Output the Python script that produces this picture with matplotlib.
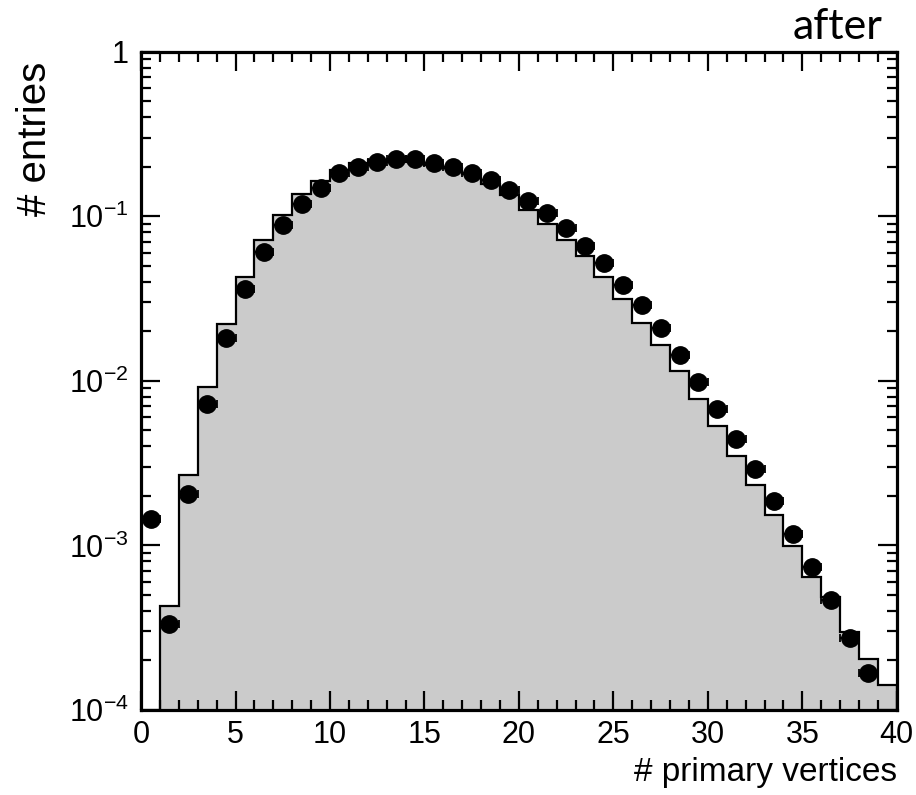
import numpy as np
import matplotlib
matplotlib.use('Agg')
import matplotlib.pyplot as plt
from matplotlib.ticker import FixedLocator, LogLocator, NullFormatter

plt.rcParams['font.family'] = ['Liberation Sans Narrow', 'Liberation Sans', 'DejaVu Sans']
plt.rcParams['mathtext.fontset'] = 'custom'
plt.rcParams['mathtext.rm'] = 'Liberation Sans Narrow'
plt.rcParams['mathtext.default'] = 'regular'

# histogram (simulation), one value per unit bin from 0 to 40
bin_edges = np.arange(0, 41, 1)
hist_values = [0, 4.3e-4, 2.66e-3, 9.2e-3, 0.0221, 0.0425, 0.072, 0.102, 0.136, 0.164,
               0.19, 0.21, 0.22, 0.218, 0.214, 0.205, 0.196, 0.181, 0.158, 0.135,
               0.1096, 0.090, 0.072, 0.057, 0.0427, 0.0315, 0.0226, 0.0166, 0.01155, 0.00778,
               0.00528, 0.00347, 0.00233, 0.00153, 0.000993, 0.000646, 0.000488, 0.000299, 0.000203, 0.000142]

# data points at bin centres
data_x = np.arange(0.5, 39, 1)
data_y = [0.00144, 0.000332, 0.00205, 0.00725, 0.0183, 0.036, 0.0606, 0.0888, 0.119, 0.148,
          0.182, 0.199, 0.213, 0.222, 0.222, 0.212, 0.200, 0.182, 0.165, 0.144,
          0.123, 0.1046, 0.0848, 0.0656, 0.0519, 0.0384, 0.029, 0.0209, 0.0144, 0.0099,
          0.00676, 0.00444, 0.0029, 0.00185, 0.00118, 0.000744, 0.000466, 0.000273, 0.000167]

y_ticks = [1e-4, 1e-3, 1e-2, 1e-1, 1]
y_tick_labels = ['$10^{-4}$', '$10^{-3}$', '$10^{-2}$', '$10^{-1}$', '1']

fig = plt.figure(figsize=(9.16, 7.95), dpi=100)
ax = fig.add_axes([0.154, 0.107, 0.825, 0.828])

h = np.clip(np.array(hist_values), 1e-7, None)
ax.stairs(h, bin_edges, fill=True, color='#cbcbcb', baseline=1e-7)
ax.stairs(h, bin_edges, color='black', linewidth=1.6, baseline=1e-7)

ax.errorbar(data_x, data_y, xerr=0.5, fmt='o', color='black', markersize=12.5,
            elinewidth=1.5, capsize=3, capthick=1.3, zorder=5)

ax.set_yscale('log')
ax.set_xlim(0, 40)
ax.set_ylim(1e-4, 1)

ax.xaxis.set_major_locator(FixedLocator(np.arange(0, 41, 5)))
ax.xaxis.set_minor_locator(FixedLocator(np.arange(0, 41, 1)))
ax.set_yticks(y_ticks)
ax.set_yticklabels(y_tick_labels)
ax.yaxis.set_minor_locator(LogLocator(base=10, subs=np.arange(2, 10), numticks=20))
ax.yaxis.set_minor_formatter(NullFormatter())

ax.tick_params(which='both', direction='in', top=True, right=True, width=1.6, labelsize=22)
ax.tick_params(which='major', length=14)
ax.tick_params(which='minor', length=7)
ax.tick_params(axis='x', pad=7)
ax.tick_params(axis='y', pad=9)
for s in ax.spines.values():
    s.set_linewidth(2.3)

ax.set_xlabel('# primary vertices', fontsize=24, loc='right', labelpad=5)
fig.text(0.038, 0.825, '# entries', rotation=90, ha='center', va='center',
         fontsize=29, family=['Liberation Sans', 'DejaVu Sans'])
fig.text(0.963, 0.951, 'after', ha='right', va='baseline', fontsize=31,
         family=['Lato', 'DejaVu Sans'])

fig.savefig('out.png', dpi=100)
